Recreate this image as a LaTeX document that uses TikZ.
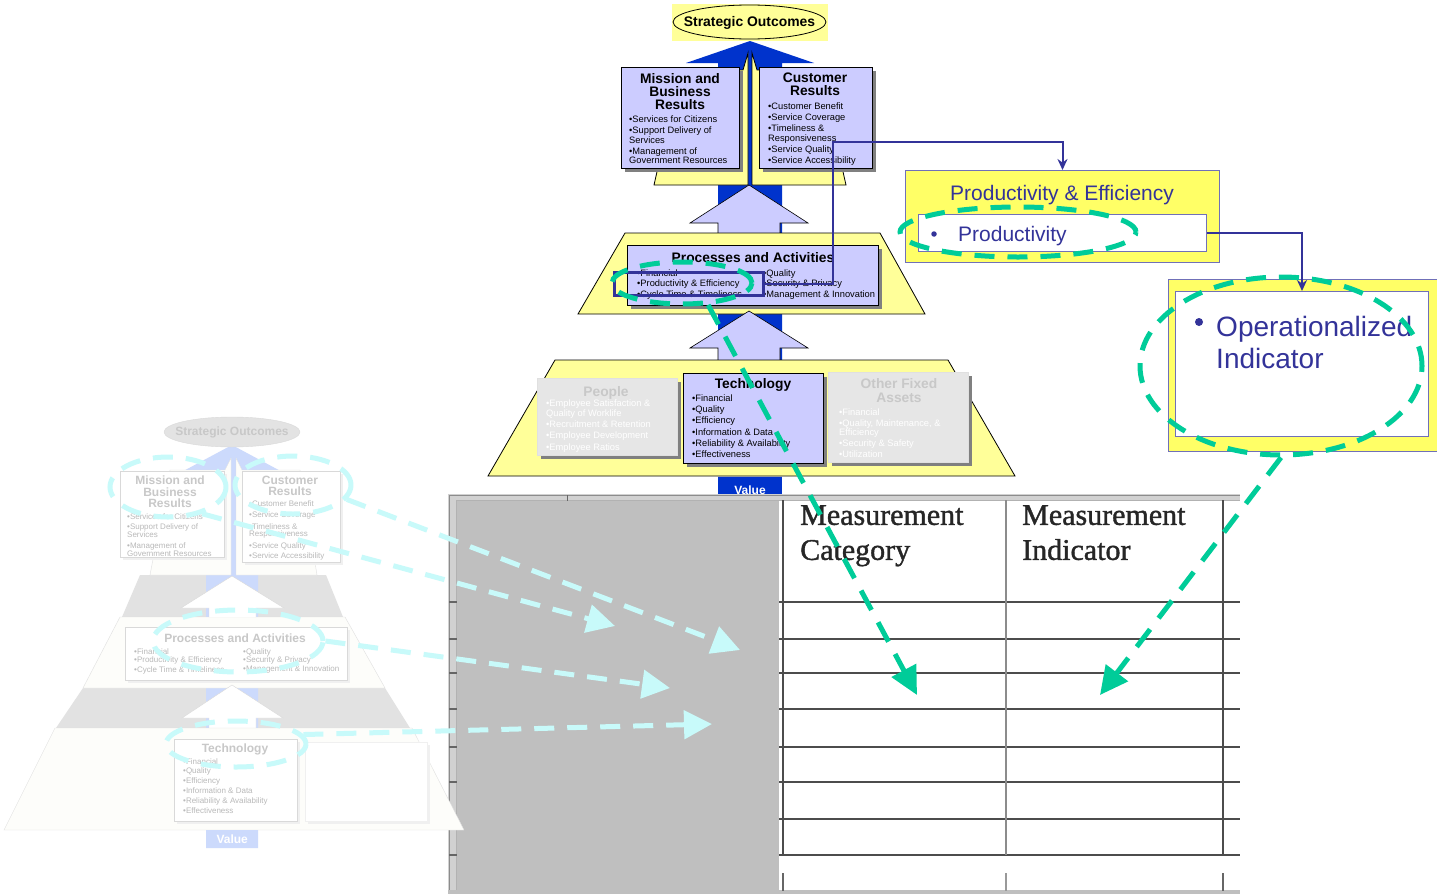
\documentclass[tikz,border=0pt]{standalone}
\usepackage{fontspec}
\setmainfont{Liberation Sans}
\newfontfamily\tms[FakeBold=1.3]{Liberation Serif}
\usetikzlibrary{shapes.geometric,arrows.meta,shadows}
\newcommand{\fsz}[2]{\fontsize{#1}{#2}\selectfont}
\definecolor{yel}{RGB}{255,255,153}
\definecolor{yeltwo}{RGB}{255,255,102}
\definecolor{lav}{RGB}{204,204,255}
\definecolor{dblue}{RGB}{0,51,204}
\definecolor{slate}{RGB}{51,51,153}
\definecolor{grn}{RGB}{0,204,153}
\definecolor{cyn}{RGB}{200,250,250}
\definecolor{lblue}{RGB}{204,218,252}
\definecolor{pgray}{RGB}{230,230,230}
\definecolor{tgray}{RGB}{200,200,200}
\definecolor{igray}{RGB}{185,185,185}
\definecolor{colgray}{RGB}{191,191,191}
\definecolor{band}{RGB}{226,226,226}
\definecolor{fwhite}{RGB}{253,253,250}
\tikzset{
  shad/.style={drop shadow={shadow xshift=4pt,shadow yshift=-4pt,fill=black!50,opacity=1}},
  lbox/.style={draw=black,line width=0.8pt,fill=lav,shad,inner sep=0,anchor=north west},
  gbox/.style={draw=black!12,line width=0.8pt,fill=pgray,shad,inner sep=0,anchor=north west},
  fbox/.style={draw=black!15,line width=0.7pt,fill=white,inner sep=0,anchor=north west,
     drop shadow={shadow xshift=3pt,shadow yshift=-3pt,fill=black!6,opacity=1}},
  ttl/.style={font={\bfseries\fsz{13.8}{13}},align=center,inner sep=0,anchor=north},
  itm/.style={font={\fsz{9.3}{9.5}},align=left,inner sep=0,anchor=north west},
  lttl/.style={font={\bfseries\fsz{12}{11.5}},text=tgray,align=center,inner sep=0,anchor=north},
  litm/.style={font={\fsz{8}{7.2}},text=igray,align=left,inner sep=0,anchor=north west},
  layer/.style={draw=black,line width=0.8pt,fill=yel},
  lavarrow/.style={draw=black,line width=0.6pt,fill=lav},
  conn/.style={draw=slate,line width=2pt,-{Stealth[length=11pt,width=10pt]}},
  gell/.style={draw=grn,line width=5pt,dash pattern=on 20pt off 13pt,ellipse,inner sep=0},
  garr/.style={draw=grn,line width=5pt,dash pattern=on 22pt off 14pt,-{Triangle[length=28pt,width=27pt]}},
  cell/.style={draw=cyn,line width=5pt,dash pattern=on 20pt off 13pt,ellipse,inner sep=0},
  carr/.style={draw=cyn,line width=5pt,dash pattern=on 20pt off 13pt,-{Triangle[length=28pt,width=28pt]}},
  tline/.style={draw=black!70,line width=1.5pt},
  hdr/.style={font={\tms\fsz{30}{35}},text=black!85,align=left,anchor=north west,inner sep=0},
}
\begin{document}
\begin{tikzpicture}[x=1pt,y=-1pt]
\useasboundingbox (0,0) rectangle (1437,894);
\fill[white] (0,0) rectangle (1437,894);

% ---------------- main pyramid value label (under table) ----------------
\node[fill=dblue,minimum width=64,minimum height=18,anchor=north west,inner sep=0] (val) at (718,477) {};
\node[text=white,font={\bfseries\fsz{12}{12}},inner sep=0] (valt) at (750,490) {Value};

% ---------------- table ----------------
\fill[colgray] (457,500) rectangle (779,894);
\fill[black!18] (448,494) rectangle (1240,500);
\fill[black!18] (448,494) rectangle (457,894);
\draw[black!45,line width=1pt] (449,894) -- (449,495) -- (1240,495);
\draw[black!30,line width=1pt] (456,894) -- (456,500) -- (1240,500);
\fill[black!25] (448,890) rectangle (1240,894);
\draw[black!60,line width=1pt] (567,495) -- (567,501);
\foreach \yy in {602,639,673,709,747,782,819,855}{
  \draw[tline] (779,\yy) -- (1240,\yy);
  \draw[black!60,line width=1.2pt] (449,\yy) -- (457,\yy);
}
\draw[tline] (783,500) -- (783,855);
\draw[black!45,line width=2.2pt] (1006,500) -- (1006,855);
\draw[tline] (1223,500) -- (1223,855);
\draw[black!60,line width=2pt] (783,873) -- (783,891);
\draw[black!40,line width=2pt] (1006,873) -- (1006,891);
\draw[black!60,line width=2pt] (1223,873) -- (1223,891);
\node[hdr] (hcat) at (800,505) {Measurement\\Category};
\node[hdr] (hind) at (1022,505) {Measurement\\Indicator};

% ---------------- left faded pyramid ----------------
\fill[band] (140,575) -- (326,575) -- (343,617) -- (122,617) -- cycle;
\fill[band] (83,688) -- (385,688) -- (410,728) -- (56,728) -- cycle;
\fill[lblue] (206,848) -- (206,475) -- (176,475) -- (232,445) -- (288,475) -- (258,475) -- (258,848) -- cycle;
\node[ellipse,draw=black!15,fill=black!11,minimum width=136,minimum height=30,inner sep=0] (lso) at (232,432) {};
\node[font={\bfseries\fsz{12}{12}},text=tgray,inner sep=0] (lsot) at (232,432.5) {Strategic Outcomes};
\filldraw[fill=fwhite,draw=black!12] (150,575) -- (231,575) -- (231,458) -- (225,470) -- (170,470) -- cycle;
\filldraw[fill=fwhite,draw=black!12] (236,575) -- (317,575) -- (300,470) -- (242,470) -- (236,458) -- cycle;
\filldraw[fill=fwhite,draw=black!12] (120,617) -- (345,617) -- (385,688) -- (83,688) -- cycle;
\filldraw[fill=white,draw=black!15] (209,617) -- (209,608) -- (181,608) -- (232,576) -- (284,608) -- (256,608) -- (256,617);
\filldraw[fill=white,draw=black!15] (209,728) -- (209,718) -- (182,718) -- (232,685) -- (283,718) -- (256,718) -- (256,728);
\filldraw[fill=fwhite,draw=black!12] (55,728) -- (412,728) -- (464,830) -- (4,830) -- cycle;
\node[fill=lblue,minimum width=52,minimum height=18,anchor=north west,inner sep=0,text=white,
      font={\bfseries\fsz{12}{12}}] (lval) at (206,830) {Value};
\node[fbox,minimum width=104,minimum height=86] (lmbr) at (120,471) {};
\node[fbox,minimum width=98,minimum height=91] (lcr) at (242,471) {};
\node[fbox,minimum width=222,minimum height=53] (lpa) at (125,627) {};
\node[fbox,minimum width=123,minimum height=82] (ltech) at (174,739) {};
\node[fbox,draw=black!6,minimum width=122,minimum height=79] (loth) at (305,742) {};
\node[lttl] (lmbrt) at (170,475.7) {Mission and\\Business\\Results};
\node[litm] (lmbri) at (127,513) {•Services for Citizens\\[3.3pt]•Support Delivery of\\Services\\[3.3pt]•Management of\\Government Resources};
\node[lttl] (lcrt) at (290,475.7) {Customer\\Results};
\node[litm] (lcri) at (249,500) {•Customer Benefit\\[3.8pt]•Service Coverage\\[3.8pt]•Timeliness \&\\Responsiveness\\[3.8pt]•Service Quality\\[1pt]•Service Accessibility};
\node[lttl] (lpat) at (235,633.7) {Processes and Activities};
\node[litm,font={\fsz{8}{8}}] (lpal) at (134,648) {•Financial\\•Productivity \& Efficiency\\[2.8pt]•Cycle Time \& Timeliness};
\node[litm,font={\fsz{8}{8}}] (lpar) at (243,648) {•Quality\\•Security \& Privacy\\[1pt]•Management \& Innovation};
\node[lttl] (ltecht) at (235,743.7) {Technology};
\node[litm,font={\fsz{8}{9.8}}] (ltechi) at (183,758) {•Financial\\•Quality\\•Efficiency\\•Information \& Data\\•Reliability \& Availability\\•Effectiveness};

% ---------------- main pyramid ----------------
\fill[dblue] (718,476) -- (718,63) -- (686,63) -- (750,41) -- (814,63) -- (782,63) -- (782,476) -- cycle;
\node[fill=yel,minimum width=156,minimum height=37,inner sep=0] (sobg) at (750,22.5) {};
\node[ellipse,draw=black,line width=0.8pt,fill=yel,minimum width=153,minimum height=34,inner sep=0] (so) at (749.5,22) {};
\node[font={\bfseries\fsz{13.9}{14}},inner sep=0] (sot) at (749.5,23) {Strategic Outcomes};
\filldraw[layer] (654,185) -- (748,185) -- (748,53) -- (743,70) -- (680,70) -- cycle;
\filldraw[layer] (752,185) -- (846,185) -- (820,70) -- (757,70) -- (752,53) -- cycle;
\filldraw[lavarrow] (718,233) -- (718,223) -- (690,223) -- (749,185) -- (808,223) -- (780,223) -- (780,233);
\filldraw[layer] (625,233) -- (880,233) -- (925,314) -- (578,314) -- cycle;
\filldraw[lavarrow] (718,360) -- (718,348) -- (690,348) -- (749,311) -- (808,348) -- (780,348) -- (780,360);
\filldraw[layer] (555,360) -- (948,360) -- (1015,476) -- (488,476) -- cycle;

\node[lbox,minimum width=118,minimum height=101] (mbr) at (621,67) {};
\node[lbox,minimum width=113,minimum height=101] (cr) at (759,67) {};
\node[lbox,minimum width=251,minimum height=60] (pa) at (627,245) {};
\node[gbox,minimum width=140,minimum height=77] (ppl) at (537,378) {};
\node[lbox,minimum width=140,minimum height=90] (tech) at (683,373) {};
\node[gbox,minimum width=140,minimum height=90] (oth) at (828,372) {};

\node[ttl] (mbrt) at (680,73) {Mission and\\Business\\Results};
\node[itm] (mbri) at (629,115.6) {•Services for Citizens\\[1.5pt]•Support Delivery of\\Services\\[1.5pt]•Management of\\Government Resources};
\node[ttl] (crt) at (815,73) {Customer\\Results};
\node[itm] (cri) at (768,102.6) {•Customer Benefit\\[1.5pt]•Service Coverage\\[1.5pt]•Timeliness \&\\Responsiveness\\[1.5pt]•Service Quality\\[1.5pt]•Service Accessibility};
\node[ttl] (pat) at (753,252) {Processes and Activities};
\node[itm,font={\fsz{9.3}{10.4}}] (pal) at (637,269.3) {•Financial\\•Productivity \& Efficiency\\•Cycle Time \& Timeliness};
\node[itm,font={\fsz{9.3}{10.4}}] (par) at (763,269.3) {•Quality\\•Security \& Privacy\\•Management \& Innovation};
\node[ttl] (techt) at (753,378) {Technology};
\node[itm,font={\fsz{9.3}{11.2}}] (techi) at (692,394.6) {•Financial\\•Quality\\•Efficiency\\•Information \& Data\\•Reliability \& Availability\\•Effectiveness};
\node[ttl,text=tgray] (pplt) at (606,386) {People};
\node[itm,font={\fsz{9.3}{10}},text=white] (ppli) at (546,399.6) {•Employee Satisfaction \&\\Quality of Worklife\\[1.2pt]•Recruitment \& Retention\\[1.2pt]•Employee Development\\[1.2pt]•Employee Ratios};
\node[ttl,text=tgray,font={\bfseries\fsz{13.8}{14}}] (otht) at (899,378) {Other Fixed\\Assets};
\node[itm,text=white] (othi) at (839,408.6) {•Financial\\[1.2pt]•Quality, Maintenance, \&\\Efficiency\\[1.2pt]•Security \& Safety\\[1.2pt]•Utilization};

\node[draw=slate,line width=3pt,minimum width=149,minimum height=23,anchor=north west,inner sep=0] (hl) at (613,271) {};

% ---------------- right boxes ----------------
\node[draw=slate!70,line width=1pt,fill=yeltwo,minimum width=314,minimum height=92,anchor=north west,inner sep=0] (pe) at (905,170) {};
\node[font={\fsz{21}{21}},text=slate,inner sep=0] (pet) at (1062,195) {Productivity \& Efficiency};
\node[draw=slate!70,line width=1pt,fill=white,minimum width=288,minimum height=37,anchor=north west,inner sep=0] (pin) at (918,214) {};
\node[circle,fill=slate,minimum size=5.5,inner sep=0] (pinb) at (934,234) {};
\node[font={\fsz{21}{21}},text=slate,anchor=west,inner sep=0] (pint) at (958,236) {Productivity};
\node[draw=slate!70,line width=1pt,fill=yeltwo,minimum width=269,minimum height=172,anchor=north west,inner sep=0] (op) at (1168,279) {};
\node[draw=slate!70,line width=1pt,fill=white,minimum width=253,minimum height=145,anchor=north west,inner sep=0] (opin) at (1175,291) {};
\node[circle,fill=slate,minimum size=8,inner sep=0] (opb) at (1199,322) {};
\node[font={\fsz{28}{32}},text=slate,align=left,anchor=north west,inner sep=0] (opt) at (1216,316) {Operationalized\\Indicator};

\coordinate (c1) at (833,142);
\draw[conn] (hl.east) -| (c1) -| (pe.north);
\draw[conn] (pin.east) -| (opin.north);

% ---------------- green highlights ----------------
\node[gell,minimum width=236,minimum height=50] (ge1) at (1018,232) {};
\node[gell,minimum width=282,minimum height=178] (ge2) at (1281,366) {};
\node[gell,minimum width=140,minimum height=42] (ge3) at (682,283) {};
\coordinate (gt1) at (917,695);
\coordinate (gt2) at (1100,695);
\draw[garr] (ge3.-40) -- (gt1);
\draw[garr] (ge2.south) -- (gt2);

% ---------------- cyan highlights ----------------
\node[cell,minimum width=116,minimum height=60] (cm) at (168,487) {};
\node[cell,minimum width=116,minimum height=58] (cc) at (293,485) {};
\node[cell,minimum width=170,minimum height=62] (cp) at (238,641) {};
\node[cell,minimum width=140,minimum height=46] (ct) at (236,744) {};
\coordinate (ct1) at (615,626);
\coordinate (ct2) at (740,650);
\coordinate (ct3) at (670,688);
\coordinate (ct4) at (712,724);
\draw[carr] (cm.-38) -- (ct1);
\draw[carr] (cc.-15) -- (ct2);
\draw[carr] (cp.east) -- (ct3);
\draw[carr] (ct.8) -- (ct4);
\end{tikzpicture}
\end{document}
